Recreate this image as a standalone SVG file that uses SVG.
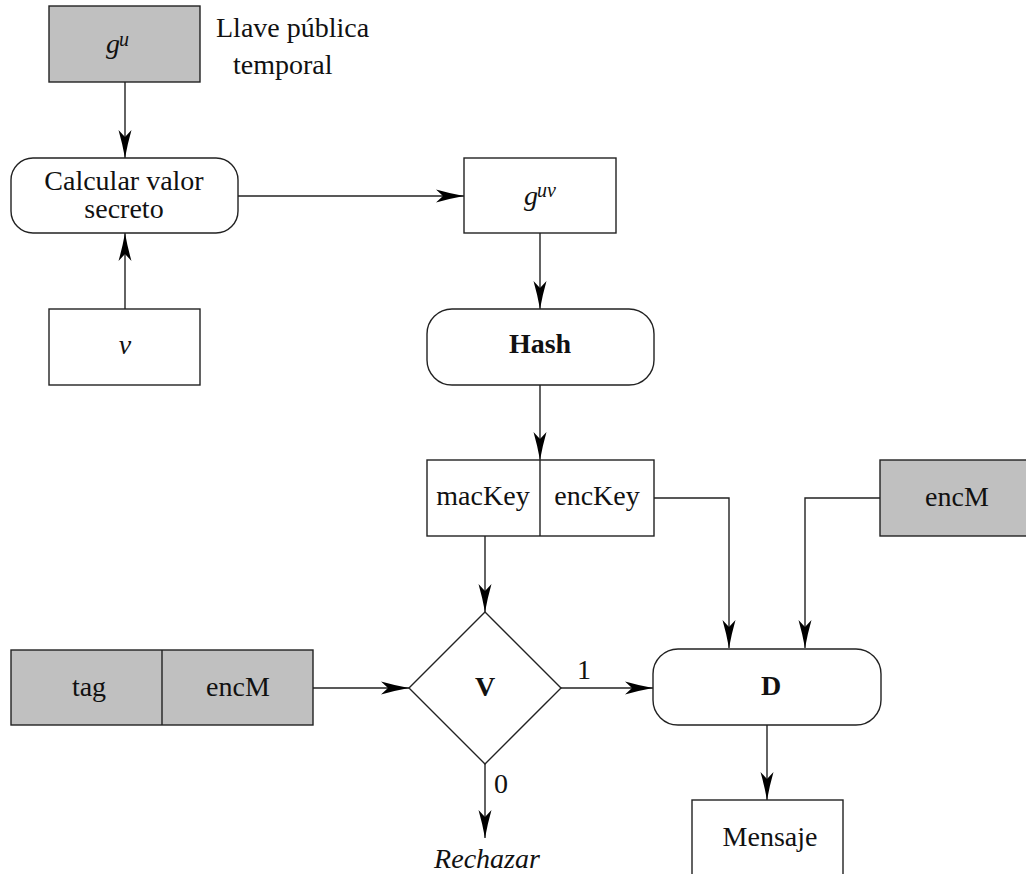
<svg xmlns="http://www.w3.org/2000/svg" width="1026" height="874" viewBox="0 0 1026 874">
  <style>
    .box { fill: #ffffff; stroke: #222222; stroke-width: 1.4; }
    .grey { fill: #c0c0c0; stroke: #222222; stroke-width: 1.4; }
    .edge { fill: none; stroke: #222222; stroke-width: 1.4; }
    .arrow { marker-end: url(#head); }
    text { font-family: "Liberation Serif", "DejaVu Serif", serif; font-size: 28px; fill: #111111; }
    .c { text-anchor: middle; }
    .it { font-style: italic; }
    .b { font-weight: bold; }
    .sup { font-size: 20px; font-style: italic; }
  </style>
  <defs>
    <marker id="head" markerUnits="userSpaceOnUse" markerWidth="32" markerHeight="16" viewBox="-30 -8 32 16" refX="0" refY="0" orient="auto">
      <path d="M0,0 Q-14,-2.5 -28,-6.5 L-21,0 L-28,6.5 Q-14,2.5 0,0 Z" fill="#000000"/>
    </marker>
  </defs>

  <!-- connectors -->
  <g id="connectors">
    <line class="edge arrow" x1="125" y1="82" x2="125" y2="158"/>
    <line class="edge arrow" x1="125" y1="309" x2="125" y2="233"/>
    <line class="edge arrow" x1="238" y1="196" x2="464" y2="196"/>
    <line class="edge arrow" x1="540" y1="233" x2="540" y2="309"/>
    <line class="edge arrow" x1="540" y1="385" x2="540" y2="460"/>
    <line class="edge arrow" x1="485" y1="536" x2="485" y2="612"/>
    <polyline class="edge arrow" points="654,498 729,498 729,648"/>
    <polyline class="edge arrow" points="880,498 805,498 805,648"/>
    <line class="edge arrow" x1="313" y1="688" x2="409" y2="688"/>
    <line class="edge arrow" x1="561" y1="688" x2="653" y2="688"/>
    <line class="edge arrow" x1="485" y1="764" x2="485" y2="838"/>
    <line class="edge arrow" x1="767" y1="725" x2="767" y2="800"/>
    <text class="c" x="584" y="679">1</text>
    <text class="c" x="501" y="793">0</text>
  </g>

  <!-- ephemeral public key -->
  <g id="gu">
    <rect class="grey" x="49" y="6" width="151" height="76"/>
    <text x="106" y="53" class="it">g</text>
    <text x="119" y="46" class="sup">u</text>
  </g>
  <g id="gu-label">
    <text x="216" y="37">Llave pública</text>
    <text x="233" y="74">temporal</text>
  </g>

  <!-- shared secret computation -->
  <g id="calcular">
    <rect class="box" x="11" y="158" width="227" height="75" rx="22" ry="22"/>
    <text class="c" x="124" y="190">Calcular valor</text>
    <text class="c" x="124" y="218">secreto</text>
  </g>

  <g id="v">
    <rect class="box" x="49" y="309" width="151" height="76"/>
    <text class="c it" x="125" y="354">v</text>
  </g>

  <g id="guv">
    <rect class="box" x="464" y="158" width="152" height="75"/>
    <text x="524" y="205" class="it">g</text>
    <text x="537" y="197" class="sup">uv</text>
  </g>

  <g id="hash">
    <rect class="box" x="427" y="309" width="227" height="76" rx="25" ry="25"/>
    <text class="c b" x="540" y="353">Hash</text>
  </g>

  <!-- derived keys -->
  <g id="keys">
    <rect class="box" x="427" y="460" width="227" height="76"/>
    <line class="edge" x1="540" y1="460" x2="540" y2="536"/>
    <text class="c" x="483" y="505">macKey</text>
    <text class="c" x="597" y="505">encKey</text>
  </g>

  <g id="encM-top">
    <rect class="grey" x="880" y="460" width="150" height="76"/>
    <text class="c" x="957" y="506">encM</text>
  </g>

  <g id="tag-encM">
    <rect class="grey" x="11" y="650" width="302" height="75"/>
    <line class="edge" x1="162" y1="650" x2="162" y2="725"/>
    <text class="c" x="89" y="696">tag</text>
    <text class="c" x="238" y="696">encM</text>
  </g>

  <!-- verification -->
  <g id="V">
    <polygon class="box" points="485,612 561,688 485,764 409,688"/>
    <text class="c b" x="485" y="696">V</text>
  </g>

  <g id="D">
    <rect class="box" x="653" y="649" width="228" height="76" rx="25" ry="25"/>
    <text class="c b" x="771" y="695">D</text>
  </g>

  <g id="rechazar">
    <text class="c it" x="487" y="868">Rechazar</text>
  </g>

  <g id="mensaje">
    <rect class="box" x="692" y="800" width="151" height="90"/>
    <text class="c" x="770" y="846">Mensaje</text>
  </g>
</svg>
